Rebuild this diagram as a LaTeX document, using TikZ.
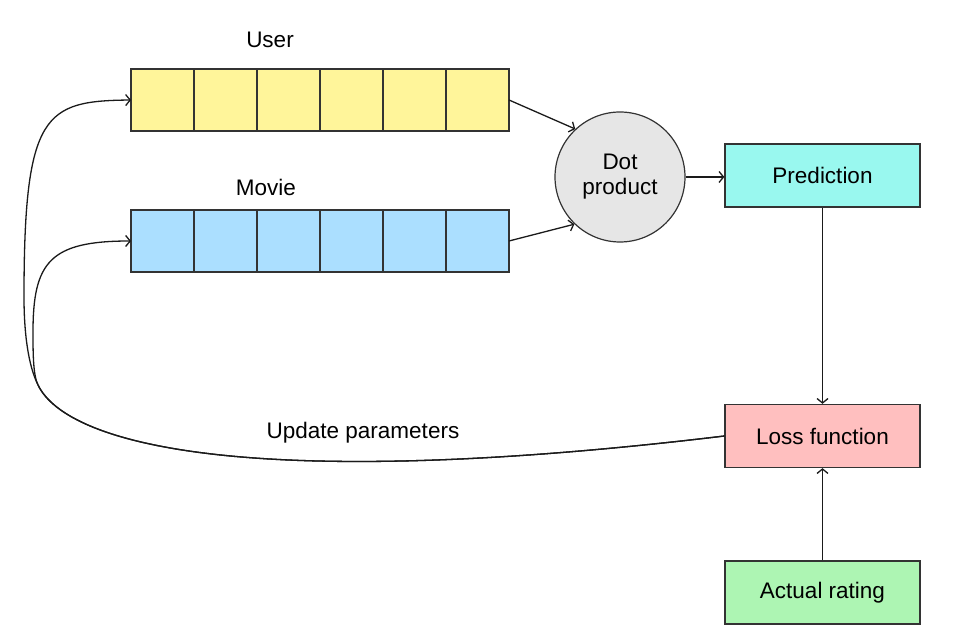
\documentclass[tikz,border=0pt]{standalone}
\usepackage{fontspec}
\setmainfont{Liberation Sans}
\usetikzlibrary{calc, positioning, arrows.meta}
\definecolor{edge}{HTML}{333333}
\definecolor{wire}{HTML}{1A1A1A}
\definecolor{userfill}{HTML}{FFF59A}
\definecolor{moviefill}{HTML}{ABDFFF}
\definecolor{predfill}{HTML}{99F8EF}
\definecolor{lossfill}{HTML}{FFBFBF}
\definecolor{ratingfill}{HTML}{ADF5B3}
\definecolor{dotfill}{HTML}{E6E6E6}
\newlength\cellwidth
\setlength\cellwidth{63pt}
\newlength\cellheight
\setlength\cellheight{62pt}

\begin{document}
\begin{tikzpicture}[
    x=1pt, y=1pt,
    font=\fontsize{22.5}{27}\selectfont,
    vec/.pic = {
        \coordinate (-c) at (0, 0);
        \path [pic actions, draw=edge, line width=1.3pt]
            (-3\cellwidth, -.5\cellheight) rectangle (3\cellwidth, .5\cellheight);
        \path [draw=edge, line width=1.3pt]
            (-2\cellwidth, -.5\cellheight) -- ++(0, \cellheight)
            (-\cellwidth, -.5\cellheight) -- ++(0, \cellheight)
            (0, -.5\cellheight) -- ++(0, \cellheight)
            (\cellwidth, -.5\cellheight) -- ++(0, \cellheight)
            (2\cellwidth, -.5\cellheight) -- ++(0, \cellheight);
        \coordinate (-in) at (-3\cellwidth, 0);
        \coordinate (-out) at (3\cellwidth, 0);
    },
    box/.style = {
        draw=edge,
        line width=1.3pt,
        minimum width=195pt,
        minimum height=63pt,
        inner sep=0pt,
    },
    link/.style = {
        draw=wire,
        line width=1.3pt,
        -{Straight Barb[length=4.5pt, width=11pt]},
    },
]
\useasboundingbox (0, 0) rectangle (969, 642);
\pic (user) [fill=userfill] at (320, 542) {vec};
\node (userlabel) at (270, 602) {User};
\pic (movie) [fill=moviefill] at (320, 401) {vec};
\node (movielabel) at (266, 455) {Movie};
\node (dot) [circle, draw=edge, line width=1.2pt, fill=dotfill, minimum size=130pt, inner sep=0pt, align=center] at (620, 465) {\raisebox{-2pt}{Dot}\\product};
\node (pred) [box, fill=predfill] at (822.5, 466.5) {Prediction};
\node (loss) [box, fill=lossfill] at (822.5, 206) {Loss function};
\node (rating) [box, fill=ratingfill] at (822.5, 49.5) {Actual rating};
\node (update) at (363, 209) {Update parameters};
\coordinate (split) at (38, 257);
\path [link] (user-out) -- (dot.133);
\path [link] (movie-out) -- (dot.226);
\path [link] (dot.east) -- (dot.east -| pred.west);
\path [link] (pred.south) -- (loss.north);
\path [link] (rating.north) -- (loss.south);
\path [link] (loss.west) .. controls (260, 150) and (68, 195) .. (split)
    .. controls (28, 277) and (24, 310) .. (24, 345)
    .. controls (24, 530) and (45, 541) .. (user-in);
\path [link] (loss.west) .. controls (260, 150) and (68, 195) .. (split)
    .. controls (33, 267) and (33, 290) .. (33, 310)
    .. controls (33, 380) and (50, 401) .. (movie-in);
\end{tikzpicture}
\end{document}
